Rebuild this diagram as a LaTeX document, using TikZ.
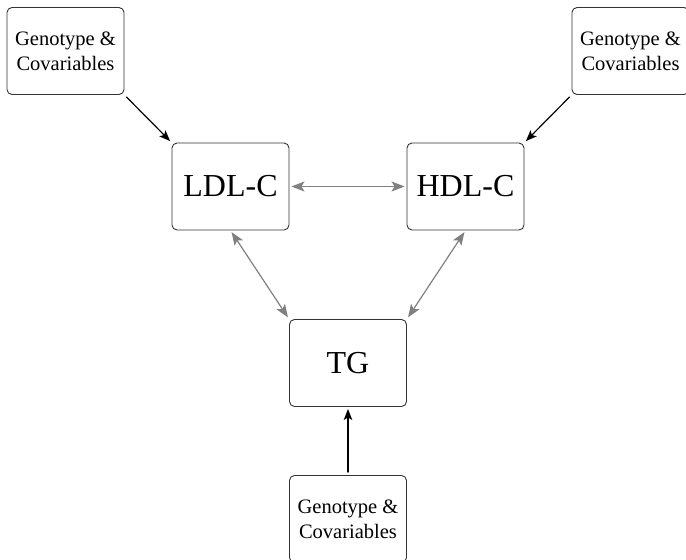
\documentclass[tikz,border=0pt]{standalone}
\usepackage{fontspec}
\setmainfont{Liberation Serif}
\usetikzlibrary{arrows.meta}
\begin{document}
\begin{tikzpicture}[x=1pt, y=-1pt, line join=round, line cap=round, >={Stealth[length=11pt,width=8.5pt,inset=2.5pt]},
		box/.style={draw=black!80, line width=0.9pt, rounded corners=5pt, minimum width=117pt, minimum height=87pt, inner sep=0pt, align=center},
		lipid/.style={box, font=\fontsize{32}{38}\selectfont},
		gbox/.style={box, font=\fontsize{20.5}{25}\selectfont},
		link/.style={{Stealth[length=13pt,width=10pt,inset=3pt]}-{Stealth[length=13pt,width=10pt,inset=3pt]}, black!50, line width=1.2pt, shorten <=2pt, shorten >=2pt},
		cause/.style={->, black, line width=1.2pt, shorten <=3pt, shorten >=2pt}]
			\useasboundingbox (0,0) rectangle (686,560);
			\node[lipid] (ldl) at (230.5,186.5) {LDL-C};
			\node[lipid] (hdl) at (465.5,186.5) {HDL-C};
			\node[lipid] (tg) at (348,363) {TG};
			\foreach \n/\x/\y in {gcA/65.5/51, gcB/630.5/51, gcC/348/519}{\node[gbox] (\n) at (\x,\y) {Genotype \&\\Covariables};}
			\draw[link] (ldl.east)--(hdl.west);
			\draw[link] (ldl.south)--(tg.north west);
			\draw[link] (hdl.south)--(tg.north east);
			\draw[cause] (gcA.south east)--(ldl.north west);
			\draw[cause] (gcB.south west)--(hdl.north east);
			\draw[cause] (gcC.north)--(tg.south);
		\end{tikzpicture}
\end{document}
